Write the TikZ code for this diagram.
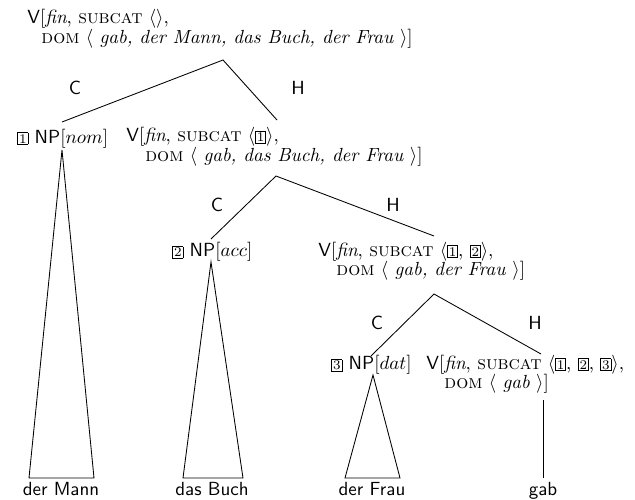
\documentclass[tikz,border=0pt]{standalone}
\newcommand{\bx}[1]{{\setlength{\fboxsep}{0.5pt}\setlength{\fboxrule}{0.4pt}\fbox{\scriptsize #1}}}
\newcommand{\twoline}[3]{\begin{tabular}[t]{@{}l@{}}#2\\[-1.6pt]\hspace*{#1}#3\end{tabular}}
\begin{document}
\begin{tikzpicture}[x=0.5263pt,y=-0.5263pt,
  cat/.style={inner sep=0pt, anchor=base west},
  lbl/.style={inner sep=0pt, font=\sffamily},
  leaf/.style={inner sep=0pt, anchor=base, font=\sffamily},
  branch/.style={draw, line width=0.45pt}]
\useasboundingbox (0,0) rectangle (635,500);
% nodes
\node[cat] (v1) at (27,24) {\twoline{7.4pt}{\textsf{V}[\textit{fin}, \textsc{subcat} $\langle\rangle$,}{\textsc{dom} $\langle$ \textit{gab, der Mann, das Buch, der Frau} $\rangle$]}};
\node[cat] (npnom) at (17,143) {\bx{1} \textsf{NP}$[nom]$};
\node[cat] (v2) at (126,142) {\twoline{10pt}{\textsf{V}[\textit{fin}, \textsc{subcat} $\langle$\bx{1}$\rangle$,}{\textsc{dom} $\langle$ \textit{gab, das Buch, der Frau} $\rangle$]}};
\node[cat] (npacc) at (172,257) {\bx{2} \textsf{NP}$[acc]$};
\node[cat] (v3) at (318,256) {\twoline{9.5pt}{\textsf{V}[\textit{fin}, \textsc{subcat} $\langle$\bx{1}, \bx{2}$\rangle$,}{\textsc{dom} $\langle$ \textit{gab, der Frau} $\rangle$]}};
\node[cat] (npdat) at (331,370) {\bx{3} \textsf{NP}$[dat]$};
\node[cat] (v4) at (426,369) {\twoline{9.5pt}{\textsf{V}[\textit{fin}, \textsc{subcat} $\langle$\bx{1}, \bx{2}, \bx{3}$\rangle$,}{\textsc{dom} $\langle$ \textit{gab} $\rangle$]}};
\node[leaf] (w1) at (61,495) {der Mann};
\node[leaf] (w2) at (212,495) {das Buch};
\node[leaf] (w3) at (372,495) {der Frau};
\node[leaf] (w4) at (543,495) {gab};
% labels
\node[lbl] (c1) at (75,88) {C};
\node[lbl] (h1) at (298,88) {H};
\node[lbl] (c2) at (217,205) {C};
\node[lbl] (h2) at (393,205) {H};
\node[lbl] (c3) at (377,323) {C};
\node[lbl] (h3) at (535,323) {H};
% branch points
\coordinate (v1b) at (223,60);
\coordinate (npnomt) at (62,122);
\coordinate (v2t) at (277,120);
\coordinate (v2b) at (276,176);
\coordinate (npacct) at (211,239);
\coordinate (v3t) at (434,236);
\coordinate (v3b) at (434,294);
\coordinate (npdatt) at (371,356);
\coordinate (v4t) at (541,354);
\coordinate (v4b) at (543,400);
\coordinate (w4t) at (543,478);
\draw[branch] (npnomt) -- (v1b) -- (v2t);
\draw[branch] (npacct) -- (v2b) -- (v3t);
\draw[branch] (npdatt) -- (v3b) -- (v4t);
\draw[branch] (v4b) -- (w4t);
% triangles
\draw[branch] (62,150) -- (29,478) -- (94,478) -- cycle;
\draw[branch] (211,262) -- (183,478) -- (243,478) -- cycle;
\draw[branch] (373,375) -- (345,478) -- (400,478) -- cycle;
\end{tikzpicture}
\end{document}
